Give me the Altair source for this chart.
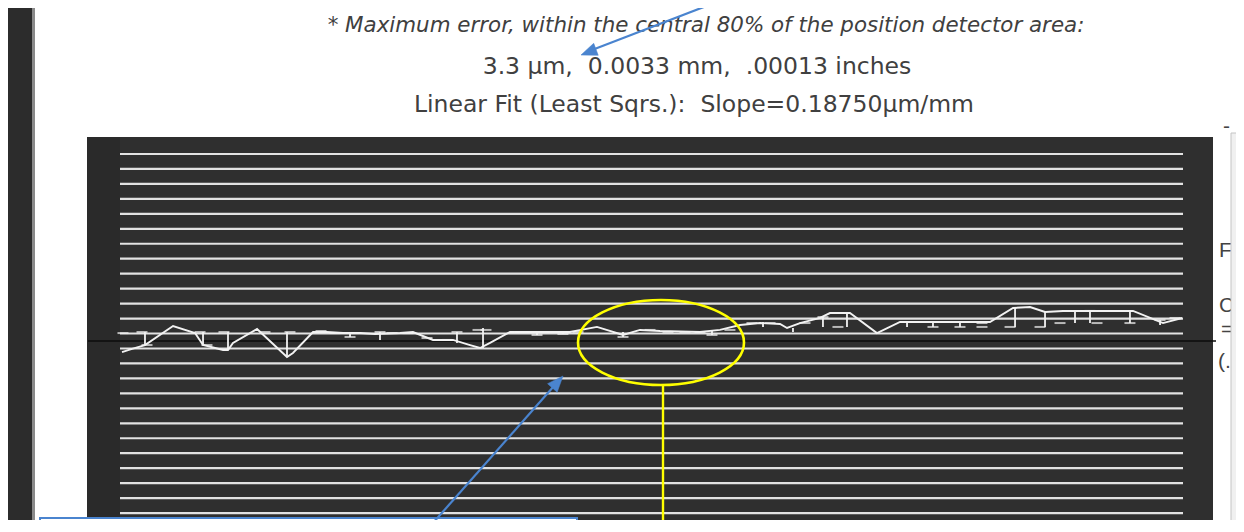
import altair as alt
import pandas as pd

W, H = 1228, 512

# coordinate system of the plot: x = % of detector span, y = error (µm, 1 per grid line)
PX_X, PX_Y = 10.63, 14.96
X0, Y0 = 120, 341          # page position of (0, 0)


def ux(px):
    return (px - X0) / PX_X


def uy(py):
    return (Y0 - py) / PX_Y


# ---- data ----
pos = [0.19, 1.13, 2.35, 4.99, 7.06, 7.81, 9.69, 10.16, 10.63, 12.89,
       15.71, 16.27, 18.16, 19.47, 20.98, 22.58, 23.99, 26.34, 27.56, 29.44,
       31.33, 32.93, 33.87, 34.81, 36.69, 39.51, 42.33, 44.87, 47.32, 48.92,
       50.80, 54.56, 56.44, 58.33, 60.21, 62.09, 62.75, 63.97, 65.85, 66.79,
       68.67, 71.21, 73.38, 81.84, 84.01, 85.61, 87.02, 88.71, 95.30, 98.12,
       99.91]
err = [-0.74, -0.53, -0.27, 1.00, 0.53, -0.27, -0.60, -0.60, -0.13, 0.80,
       -1.07, -0.80, 0.60, 0.60, 0.53, 0.53, 0.47, 0.53, 0.60, 0.07,
       0.07, -0.27, -0.47, -0.13, 0.60, 0.60, 0.60, 0.94, 0.40, 0.74,
       0.67, 0.60, 0.74, 1.07, 1.20, 1.14, 0.87, 1.20, 1.54, 1.87,
       1.87, 0.53, 1.27, 1.27, 2.21, 2.27, 1.94, 2.01, 2.01, 1.20,
       1.54]

bar_pos = [2.35, 7.81, 10.16, 15.71, 21.64, 24.46, 31.70, 34.15, 39.23, 41.67,
           47.32, 55.69, 60.49, 63.31, 66.13, 68.39, 74.04, 76.48, 79.02, 84.20,
           87.02, 89.84, 91.25, 95.01, 97.84]
bar_hi = [0.60, 0.60, 0.60, 0.60, 0.60, 0.60, 0.60, 0.87, 0.67, 0.67,
          0.60, 0.67, 1.27, 0.87, 1.60, 1.87, 1.27, 1.27, 1.27, 2.21,
          1.94, 1.94, 1.94, 1.94, 1.40]
bar_lo = [-0.27, -0.27, -0.60, -1.07, 0.27, 0.07, -0.13, -0.47, 0.40, 0.47,
          0.27, 0.40, 0.94, 0.60, 0.94, 0.94, 0.94, 0.94, 0.94, 0.94,
          0.94, 1.20, 1.20, 1.20, 1.07]

cap_pos = [0.28, 2.07, 2.54, 7.53, 8.18, 9.78, 13.64, 15.99, 18.91, 20.23,
           21.64, 22.20, 24.46, 25.59, 27.09, 28.88, 30.76, 31.70, 33.68, 34.43,
           37.63, 39.23, 40.26, 41.67, 43.09, 47.32, 49.86, 51.55, 53.15, 54.56,
           55.69, 57.38, 59.45, 61.15, 64.44, 66.13, 67.54, 74.51, 76.48, 77.61,
           79.02, 81.09, 81.09, 83.73, 86.55, 88.43, 91.25, 91.91, 95.01, 97.84,
           99.25]
cap_err = [0.53, 0.60, -0.27, 0.60, -0.27, 0.60, 0.60, 0.60, 0.67, 0.53,
           0.27, 0.53, 0.60, 0.53, 0.53, 0.20, 0.07, 0.60, 0.74, 0.74,
           0.60, 0.40, 0.60, 0.47, 0.60, 0.27, 0.74, 0.60, 0.60, 0.60,
           0.40, 0.74, 1.20, 1.20, 1.20, 1.60, 0.94, 1.27, 0.94, 1.27,
           0.94, 1.20, 0.94, 0.94, 0.94, 1.20, 2.01, 1.20, 1.20, 1.40,
           1.54]

grid_vals = [12.5 - k for k in range(25)]

NB = "\u00a0"
title1 = "* Maximum error, within the central 80% of the position detector area:"
title2 = f"3.3 µm,{NB}{NB}0.0033 mm,{NB}{NB}.00013 inches"
title3 = f"Linear Fit (Least Sqrs.):{NB}{NB}Slope=0.18750µm/mm"

# ---- scales ----
xs = alt.Scale(domain=[ux(8), ux(8 + W)], nice=False, zero=False)
ys = alt.Scale(domain=[uy(8 + H), uy(8)], nice=False, zero=False)


def X(f):
    return alt.X(f, type="quantitative", scale=xs, axis=None)


def Y(f):
    return alt.Y(f, type="quantitative", scale=ys, axis=None)


# ---- backgrounds ----
frames = pd.DataFrame([
    dict(x1=ux(8), x2=ux(32), y1=uy(8 + H), y2=uy(8), fill="#2c2c2c"),
    dict(x1=ux(32), x2=ux(35), y1=uy(8 + H), y2=uy(8), fill="#8a8a8a"),
    dict(x1=ux(87), x2=ux(1213), y1=uy(525), y2=uy(137), fill="#2f2f2f"),
    dict(x1=ux(87), x2=ux(120), y1=uy(525), y2=uy(137), fill="#2a2a2a"),
])
bg = alt.Chart(frames).mark_rect().encode(
    x=X("x1"), x2=alt.X2("x2"), y=Y("y1"), y2=alt.Y2("y2"),
    fill=alt.Color("fill:N", scale=None))

grid_df = pd.DataFrame({"y": grid_vals, "x1": 0.0, "x2": 100.0})
grid = alt.Chart(grid_df).mark_rule(color="#e2e2e2", strokeWidth=2.2).encode(
    x=X("x1"), x2=alt.X2("x2"), y=Y("y"))

zero_df = pd.DataFrame({"y": [0.0], "x1": [ux(88)], "x2": [ux(1216)]})
zero = alt.Chart(zero_df).mark_rule(color="#0c0c0c", strokeWidth=1.4).encode(
    x=X("x1"), x2=alt.X2("x2"), y=Y("y"))

LINEC = "#f2f2f2"
trace_df = pd.DataFrame({"pos": pos, "err": err, "i": range(len(pos))})
trace = alt.Chart(trace_df).mark_line(color=LINEC, strokeWidth=1.9).encode(
    x=X("pos"), y=Y("err"), order="i:O")

bars_df = pd.DataFrame({"pos": bar_pos, "lo": bar_lo, "hi": bar_hi})
bars = alt.Chart(bars_df).mark_rule(color=LINEC, strokeWidth=1.8).encode(
    x=X("pos"), y=Y("lo"), y2=alt.Y2("hi"))

caps_df = pd.DataFrame({"pos": cap_pos, "err": cap_err})
caps = alt.Chart(caps_df).mark_tick(color=LINEC, thickness=2, size=11,
                                    orient="horizontal").encode(
    x=X("pos"), y=Y("err"))

# ---- scrollbar / clipped dialog text on the right ----
side_txt = pd.DataFrame({
    "t": ["-", "F", "C", "=", "(."],
    "x": [1223 - 8, 1219 - 8, 1219 - 8, 1221 - 8, 1218 - 8],
    "y": [133 - 8, 257 - 8, 312 - 8, 336 - 8, 368 - 8],
})
side = alt.Chart(side_txt).mark_text(font="Liberation Sans", fontSize=21,
                                     color="#444444", align="left",
                                     baseline="alphabetic").encode(
    x=alt.X("x:Q", scale=None, axis=None), y=alt.Y("y:Q", scale=None, axis=None),
    text="t:N")
scroll_df = pd.DataFrame([dict(x1=ux(1231), x2=ux(1250), y1=uy(523), y2=uy(133))])
scroll = alt.Chart(scroll_df).mark_rect(fill="#f0f0f0", stroke="#c4c4c4",
                                        strokeWidth=1).encode(
    x=X("x1"), x2=alt.X2("x2"), y=Y("y1"), y2=alt.Y2("y2"))

# ---- titles ----
TXT = "#404040"
t1 = alt.Chart(pd.DataFrame({"t": [title1]})).mark_text(
    font="DejaVu Sans", fontStyle="italic", fontSize=21.4, color=TXT,
    align="center", baseline="alphabetic").encode(
    x=alt.value(706 - 8), y=alt.value(32 - 8), text="t:N")
t2 = alt.Chart(pd.DataFrame({"t": [title2]})).mark_text(
    font="DejaVu Sans", fontSize=23.5, color=TXT,
    align="center", baseline="alphabetic").encode(
    x=alt.value(697 - 8), y=alt.value(74 - 8), text="t:N")
t3 = alt.Chart(pd.DataFrame({"t": [title3]})).mark_text(
    font="DejaVu Sans", fontSize=23.5, color=TXT,
    align="center", baseline="alphabetic").encode(
    x=alt.value(694 - 8), y=alt.value(112 - 8), text="t:N")

# ---- annotations (arrows, ellipse, call-out box) ----
BLUE = "#4a84cf"
arrows_df = pd.DataFrame({
    "a": ["top", "top", "bottom", "bottom"],
    "k": [0, 1, 0, 1],
    "x": [ux(722), ux(592), ux(425), ux(554)],
    "y": [uy(0), uy(50), uy(532), uy(386)],
})
arrows = alt.Chart(arrows_df).mark_line(color=BLUE, strokeWidth=2.2).encode(
    x=X("x"), y=Y("y"), detail="a:N", order="k:O")
heads_df = pd.DataFrame({
    "x": [ux(581), ux(563)], "y": [uy(55), uy(376)], "ang": [249.2, 41.6]})
heads = alt.Chart(heads_df).mark_point(
    shape="M0,0L0.8,2L-0.8,2Z", filled=True, fill=BLUE, stroke=BLUE,
    strokeWidth=0.5, size=256, opacity=1).encode(
    x=X("x"), y=Y("y"), angle=alt.Angle("ang:Q", scale=None))

ell_df = pd.DataFrame({"x": [ux(661)], "y": [uy(342.5)]})
ellipse = alt.Chart(ell_df).mark_point(
    shape="M-1,0C-1,-0.283,-0.5523,-0.512,0,-0.512C0.5523,-0.512,1,-0.283,1,0"
          "C1,0.283,0.5523,0.512,0,0.512C-0.5523,0.512,-1,0.283,-1,0Z",
    filled=False, stroke="#ffff00", strokeWidth=2.6, size=166 ** 2,
    opacity=1).encode(x=X("x"), y=Y("y"))

yline_df = pd.DataFrame({"x": [ux(663)], "y1": [uy(385)], "y2": [uy(540)]})
yline = alt.Chart(yline_df).mark_rule(color="#ffff00", strokeWidth=2.4).encode(
    x=X("x"), y=Y("y1"), y2=alt.Y2("y2"))

box_df = pd.DataFrame([dict(x1=ux(40), x2=ux(577), y1=uy(545), y2=uy(518))])
box = alt.Chart(box_df).mark_rect(fill="white", stroke=BLUE, strokeWidth=2).encode(
    x=X("x1"), x2=alt.X2("x2"), y=Y("y1"), y2=alt.Y2("y2"))

chart = alt.layer(
    bg, grid, zero, trace, bars, caps, side, scroll, t1, t2, t3,
    yline, box, arrows, heads, ellipse
).properties(
    width=W, height=H,
    autosize=alt.AutoSizeParams(type="none"),
    padding=0,
    background="white",
).configure_view(stroke=None)

chart.save("out.html", embed_options={"renderer": "svg", "actions": False})
